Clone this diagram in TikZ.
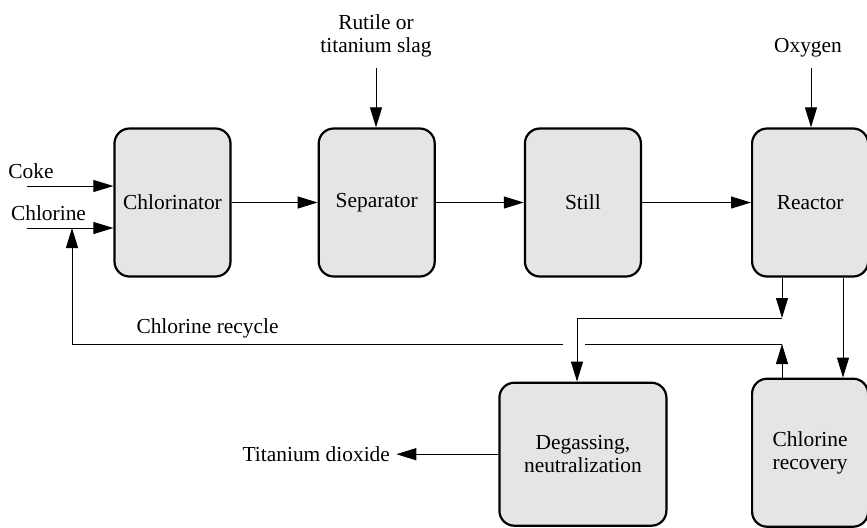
\documentclass[tikz,border=0pt]{standalone}
\usepackage{fontspec}
\setmainfont{Liberation Serif}
\usetikzlibrary{arrows.meta,positioning}

\begin{document}
\begin{tikzpicture}[x=0.5pt,y=-0.5pt,font=\fontsize{10.7}{11.5}\selectfont,node distance=45pt,
   unit/.style={draw,line width=1.1pt,rounded corners=7.5pt,fill=gray!20,minimum width=58pt,
                minimum height=74pt,align=center},
   flow/.style={-{Triangle[length=10pt,width=6pt]},line width=0.5pt},
   lbl/.style={align=center,inner sep=3pt}]
  \useasboundingbox (0,0) rectangle (867,527);
  % process units
  \node[unit] (chl) at (172.5,202.5) {Chlorinator};
  \node[unit,right=43pt of chl] (sep) {Separator};
  \node[unit,right=44pt of sep] (still) {Still};
  \node[unit,right=54.5pt of still] (reac) {Reactor};
  \node[unit,below=52pt of still,minimum width=83.5pt,minimum height=71.5pt] (degas) {Degassing,\\neutralization};
  \node[unit,below=50pt of reac] (rec) {Chlorine\\recovery};
  % stream labels
  \node[lbl] (coke) at (31,171) {Coke};
  \node[lbl] (clin) at (48.5,213) {Chlorine};
  \node[lbl] (ore) at (376,36) {Rutile or\\titanium slag};
  \node[lbl] (oxy) at (808,48) {Oxygen};
  \node[lbl] (rcyl) at (207.5,328) {Chlorine recycle};
  \node[lbl,left=51pt of degas] (tio) {Titanium dioxide};
  % free ends and bends
  \coordinate (cokein) at (27,186);
  \coordinate (clfeed) at (27,228);
  \coordinate (oretop) at (376,68);
  \coordinate (oxytop) at (811,68);
  \coordinate (split) at (782,318);
  \coordinate (drop) at (577,318);
  \coordinate (ret) at (782,344);
  \coordinate (gapr) at (585,344);
  \coordinate (gapl) at (563,344);
  \coordinate (bend) at (72,344);
  \coordinate (dn) at (843,300);
  % feeds
  \draw[flow] (cokein) -- (cokein -| chl.west);
  \draw[flow] (clfeed) -- (clfeed -| chl.west);
  \draw[flow] (oretop) -- (oretop |- sep.north);
  \draw[flow] (oxytop) -- (oxytop |- reac.north);
  % main line
  \draw[flow] (chl) -- (sep);
  \draw[flow] (sep) -- (still);
  \draw[flow] (still) -- (reac);
  % reactor outlets
  \draw[flow] (reac.south -| split) -- (split);
  \draw[flow] (split) -- (drop) -- (drop |- degas.north);
  \draw[flow] (reac.south -| dn) -- (rec.north -| dn);
  \draw[flow] (degas) -- (tio);
  % recycle
  \draw[flow] (rec.north -| ret) -- (ret);
  \draw[line width=0.5pt] (ret) -- (gapr);
  \draw[flow] (gapl) -- (bend) -- (bend |- clfeed);
\end{tikzpicture}
\end{document}
